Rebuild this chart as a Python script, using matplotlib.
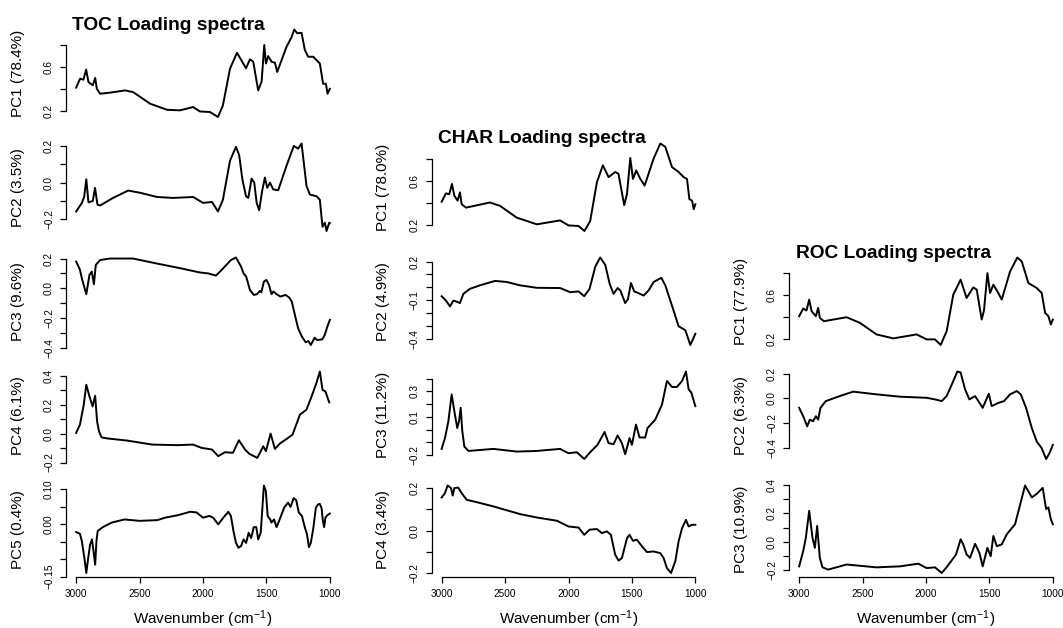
import matplotlib
matplotlib.use('Agg')
import matplotlib.pyplot as plt

plt.rcParams['font.family'] = ['Liberation Sans', 'DejaVu Sans']
plt.rcParams['mathtext.fontset'] = 'custom'
plt.rcParams['mathtext.rm'] = 'Liberation Sans'
plt.rcParams['mathtext.it'] = 'Liberation Sans:italic'
plt.rcParams['mathtext.bf'] = 'Liberation Sans:bold'

M = '\u2212'

# ---- TOC loadings ----
toc_pc1_wn = [3000, 2969, 2943, 2921, 2903, 2869, 2850, 2837, 2811, 2732, 2614, 2551, 2417, 2283, 2181,
              2079, 2024, 1945, 1882, 1843, 1787, 1732, 1661, 1630, 1604, 1565, 1538, 1517, 1504, 1486,
              1459, 1433, 1415, 1341, 1302, 1281, 1257, 1223, 1197, 1171, 1131, 1105, 1079, 1053, 1031,
              1018, 1000]
toc_pc1 = [0.415, 0.496, 0.487, 0.578, 0.466, 0.436, 0.503, 0.405, 0.36, 0.37, 0.39, 0.375, 0.27, 0.215, 0.21,
           0.24, 0.2, 0.195, 0.15, 0.255, 0.587, 0.73, 0.59, 0.67, 0.65, 0.39, 0.47, 0.8, 0.633, 0.70,
           0.648, 0.64, 0.557, 0.785, 0.87, 0.94, 0.906, 0.91, 0.755, 0.694, 0.694, 0.663, 0.633, 0.45, 0.45,
           0.36, 0.405]

toc_pc2_wn = [3000, 2955, 2937, 2920, 2903, 2869, 2851, 2832, 2811, 2709, 2590, 2496, 2362, 2236, 2077,
              2000, 1929, 1882, 1843, 1787, 1740, 1715, 1690, 1661, 1643, 1617, 1596, 1577, 1557, 1535,
              1512, 1494, 1472, 1446, 1407, 1341, 1284, 1250, 1223, 1184, 1157, 1105, 1079, 1058, 1039,
              1026, 1005, 1000]
toc_pc2 = [-0.157, -0.11, -0.078, 0.018, -0.107, -0.10, -0.028, -0.12, -0.124, -0.083, -0.043, -0.055, -0.078, -0.083, -0.078,
           -0.11, -0.105, -0.157, -0.093, 0.12, 0.195, 0.15, 0.02, -0.074, -0.083, 0.022, 0.0, -0.11, -0.15, -0.05,
           0.028, -0.028, 0.0, -0.037, -0.041, 0.093, 0.2, 0.185, 0.213, -0.018, -0.065, -0.074, -0.093, -0.24, -0.218,
           -0.263, -0.218, -0.22]

toc_pc3_wn = [3000, 2970, 2955, 2920, 2895, 2877, 2860, 2845, 2811, 2732, 2551, 2350, 2180, 2024, 1960,
              1898, 1860, 1780, 1740, 1700, 1680, 1660, 1630, 1600, 1575, 1550, 1540, 1520, 1500, 1480,
              1460, 1445, 1420, 1390, 1350, 1320, 1300, 1270, 1250, 1220, 1190, 1170, 1150, 1120, 1100,
              1060, 1040, 1020, 1000]
toc_pc3 = [0.18, 0.124, 0.067, -0.04, 0.09, 0.112, 0.027, 0.157, 0.19, 0.2, 0.2, 0.164, 0.135, 0.106, 0.1,
           0.085, 0.117, 0.19, 0.207, 0.146, 0.1, 0.079, -0.011, -0.045, -0.04, -0.018, -0.027, 0.045, 0.056, 0.023,
           -0.04, -0.022, -0.04, -0.056, -0.045, -0.063, -0.09, -0.2, -0.27, -0.326, -0.364, -0.355, -0.382, -0.333, -0.349,
           -0.344, -0.314, -0.259, -0.213]

toc_pc4_wn = [3000, 2970, 2940, 2920, 2895, 2870, 2850, 2835, 2820, 2800, 2750, 2600, 2400, 2200, 2079,
              2010, 1930, 1880, 1827, 1764, 1717, 1669, 1635, 1572, 1525, 1504, 1467, 1433, 1394, 1341,
              1294, 1236, 1184, 1144, 1106, 1079, 1058, 1035, 1005]
toc_pc4 = [0.005, 0.062, 0.2, 0.338, 0.257, 0.188, 0.262, 0.085, 0.016, -0.026, -0.034, -0.048, -0.076, -0.08, -0.076,
           -0.099, -0.11, -0.156, -0.129, -0.133, -0.046, -0.11, -0.14, -0.168, -0.088, -0.122, 0.0, -0.106, -0.069, -0.037,
           -0.007, 0.131, 0.166, 0.257, 0.35, 0.43, 0.303, 0.292, 0.216]

toc_pc5_wn = [3000, 2970, 2955, 2935, 2920, 2905, 2890, 2875, 2860, 2850, 2840, 2830, 2790, 2720, 2620,
              2500, 2360, 2300, 2200, 2100, 2050, 2000, 1950, 1920, 1880, 1840, 1800, 1780, 1760, 1740,
              1720, 1700, 1680, 1660, 1640, 1620, 1600, 1580, 1565, 1545, 1520, 1505, 1490, 1470, 1460,
              1440, 1420, 1400, 1360, 1330, 1310, 1285, 1265, 1245, 1220, 1200, 1180, 1165, 1150, 1130,
              1110, 1095, 1080, 1065, 1055, 1045, 1035, 1020, 1000]
toc_pc5 = [-0.023, -0.028, -0.049, -0.097, -0.14, -0.097, -0.059, -0.044, -0.087, -0.116, -0.049, -0.02, -0.009, 0.004, 0.013,
           0.009, 0.011, 0.018, 0.025, 0.035, 0.033, 0.018, 0.023, 0.018, -0.001, 0.018, 0.035, 0.023, -0.02, -0.054,
           -0.068, -0.063, -0.044, -0.054, -0.025, -0.04, -0.009, -0.009, -0.044, -0.025, 0.11, 0.095, 0.023, 0.013, 0.004,
           0.013, -0.009, 0.009, 0.047, 0.061, 0.049, 0.074, 0.068, 0.033, 0.023, -0.006, -0.03, -0.066, -0.054, -0.011,
           0.047, 0.055, 0.058, 0.045, 0.009, -0.009, 0.018, 0.025, 0.03]

# ---- CHAR loadings ----
char_pc1_wn = [3000, 2966, 2940, 2919, 2900, 2874, 2856, 2842, 2808, 2619, 2540, 2408, 2250, 2066, 2000,
               1921, 1874, 1829, 1776, 1729, 1684, 1632, 1606, 1561, 1539, 1513, 1492, 1466, 1434, 1400,
               1329, 1276, 1237, 1184, 1132, 1092, 1066, 1047, 1026, 1013, 1000]
char_pc1 = [0.413, 0.488, 0.48, 0.573, 0.467, 0.422, 0.497, 0.39, 0.36, 0.406, 0.376, 0.27, 0.21, 0.245, 0.2,
            0.195, 0.15, 0.24, 0.588, 0.74, 0.634, 0.68, 0.664, 0.382, 0.482, 0.806, 0.618, 0.694, 0.618, 0.558,
            0.8, 0.936, 0.906, 0.724, 0.68, 0.634, 0.618, 0.436, 0.422, 0.345, 0.39]

char_pc2_wn = [3000, 2966, 2934, 2908, 2882, 2856, 2829, 2777, 2698, 2579, 2487, 2382, 2250, 2066, 1987,
               1921, 1876, 1834, 1789, 1750, 1710, 1676, 1645, 1613, 1592, 1553, 1531, 1508, 1482, 1447,
               1408, 1368, 1329, 1268, 1237, 1184, 1132, 1079, 1053, 1040, 1021, 1000]
char_pc2 = [-0.068, -0.102, -0.147, -0.102, -0.11, -0.121, -0.05, -0.011, 0.016, 0.05, 0.042, 0.016, -0.003, -0.005, -0.037,
            -0.031, -0.068, -0.011, 0.16, 0.231, 0.174, 0.029, -0.05, -0.005, -0.023, -0.121, -0.09, 0.034, -0.031, -0.045,
            -0.063, -0.023, 0.042, 0.074, 0.016, -0.142, -0.3, -0.331, -0.405, -0.445, -0.405, -0.358]

char_pc3_wn = [3000, 2974, 2947, 2921, 2900, 2877, 2863, 2850, 2837, 2821, 2789, 2592, 2408, 2250, 2066,
               2000, 1934, 1876, 1829, 1771, 1716, 1684, 1645, 1613, 1579, 1553, 1519, 1500, 1468, 1440,
               1395, 1377, 1316, 1263, 1224, 1184, 1145, 1105, 1074, 1053, 1032, 1000]
char_pc3 = [-0.15, -0.066, 0.066, 0.276, 0.145, 0.013, 0.066, 0.171, -0.013, -0.132, -0.166, -0.15, -0.171, -0.166, -0.15,
            -0.184, -0.176, -0.229, -0.176, -0.118, -0.018, -0.105, -0.113, -0.045, -0.105, -0.192, -0.066, -0.118, 0.04, -0.061,
            -0.061, 0.013, 0.079, 0.197, 0.381, 0.334, 0.334, 0.381, 0.455, 0.316, 0.29, 0.184]

char_pc4_wn = [3000, 2974, 2953, 2926, 2913, 2900, 2869, 2842, 2803, 2724, 2592, 2382, 2250, 2092, 2000,
               1921, 1876, 1834, 1776, 1737, 1697, 1666, 1632, 1605, 1579, 1539, 1519, 1492, 1461, 1421,
               1382, 1329, 1276, 1250, 1224, 1192, 1158, 1132, 1105, 1074, 1053, 1026, 1000]
char_pc4 = [0.156, 0.176, 0.212, 0.2, 0.165, 0.2, 0.202, 0.176, 0.145, 0.134, 0.114, 0.078, 0.062, 0.047, 0.02,
            0.015, -0.019, 0.005, 0.008, -0.011, -0.003, -0.019, -0.112, -0.14, -0.128, -0.035, -0.019, -0.047, -0.042, -0.073,
            -0.1, -0.097, -0.105, -0.128, -0.175, -0.198, -0.143, -0.05, 0.012, 0.051, 0.02, 0.028, 0.028]

# ---- ROC loadings ----
roc_pc1_wn = [3000, 2968, 2942, 2921, 2902, 2868, 2850, 2837, 2805, 2626, 2521, 2390, 2258, 2074, 1995,
              1929, 1884, 1837, 1785, 1727, 1680, 1627, 1600, 1561, 1543, 1516, 1495, 1469, 1430, 1403,
              1337, 1280, 1245, 1193, 1127, 1088, 1061, 1035, 1016, 1000]
roc_pc1 = [0.41, 0.48, 0.462, 0.561, 0.456, 0.41, 0.486, 0.395, 0.365, 0.401, 0.35, 0.245, 0.209, 0.245, 0.2,
           0.2, 0.149, 0.275, 0.606, 0.742, 0.576, 0.672, 0.651, 0.38, 0.462, 0.801, 0.621, 0.697, 0.621, 0.561,
           0.817, 0.943, 0.907, 0.711, 0.666, 0.621, 0.44, 0.41, 0.335, 0.38]

roc_pc2_wn = [3000, 2968, 2937, 2916, 2890, 2868, 2850, 2832, 2790, 2680, 2574, 2390, 2205, 1995, 1929,
              1876, 1837, 1790, 1753, 1727, 1692, 1658, 1613, 1587, 1553, 1505, 1482, 1429, 1385, 1337,
              1285, 1253, 1211, 1166, 1127, 1088, 1053, 1027, 1000]
roc_pc2 = [-0.077, -0.145, -0.227, -0.173, -0.186, -0.145, -0.173, -0.077, -0.022, 0.019, 0.055, 0.033, 0.014, 0.005, -0.008,
           -0.022, 0.019, 0.129, 0.219, 0.211, 0.074, -0.008, 0.019, -0.022, -0.077, 0.038, -0.063, -0.036, -0.022, 0.033,
           0.06, 0.033, -0.077, -0.241, -0.351, -0.405, -0.493, -0.446, -0.378]

roc_pc3_wn = [3000, 2968, 2947, 2921, 2895, 2876, 2858, 2837, 2816, 2771, 2626, 2390, 2205, 2061, 1995,
              1929, 1876, 1832, 1763, 1727, 1706, 1680, 1653, 1613, 1579, 1553, 1516, 1490, 1469, 1442,
              1403, 1363, 1298, 1219, 1166, 1127, 1080, 1053, 1035, 1016, 1000]
roc_pc3 = [-0.174, -0.066, 0.029, 0.219, 0.029, -0.043, 0.112, -0.114, -0.181, -0.197, -0.161, -0.181, -0.174, -0.155, -0.186,
           -0.181, -0.221, -0.174, -0.09, 0.017, -0.019, -0.09, -0.114, -0.014, -0.079, -0.174, -0.043, -0.102, 0.041, -0.031,
           -0.019, 0.053, 0.124, 0.398, 0.314, 0.339, 0.381, 0.231, 0.243, 0.16, 0.124]

# panel labels, y ticks and tick labels
toc_labels = ['PC1 (78.4%)', 'PC2 (3.5%)', 'PC3 (9.6%)', 'PC4 (6.1%)', 'PC5 (0.4%)']
char_labels = ['PC1 (78.0%)', 'PC2 (4.9%)', 'PC3 (11.2%)', 'PC4 (3.4%)']
roc_labels = ['PC1 (77.9%)', 'PC2 (6.3%)', 'PC3 (10.9%)']

pc1_ticks = ([0.2, 0.4, 0.6, 0.8], ['0.2', '', '0.6', ''])
toc_pc2_ticks = ([-0.2, -0.1, 0.0, 0.1, 0.2], [M + '0.2', '', '0.0', '', '0.2'])
toc_pc3_ticks = ([-0.4, -0.3, -0.2, -0.1, 0.0, 0.1, 0.2], [M + '0.4', '', M + '0.2', '', '0.0', '', '0.2'])
toc_pc4_ticks = ([-0.2, -0.1, 0.0, 0.1, 0.2, 0.3, 0.4], [M + '0.2', '', '0.0', '', '0.2', '', '0.4'])
toc_pc5_ticks = ([-0.15, -0.10, -0.05, 0.0, 0.05, 0.10], [M + '0.15', '', '', '0.00', '', '0.10'])
char_pc2_ticks = ([-0.4, -0.3, -0.2, -0.1, 0.0, 0.1, 0.2], [M + '0.4', '', '', M + '0.1', '', '', '0.2'])
char_pc3_ticks = ([-0.2, -0.1, 0.0, 0.1, 0.2, 0.3, 0.4], [M + '0.2', '', '', '0.1', '', '0.3', ''])
char_pc4_ticks = ([-0.2, -0.1, 0.0, 0.1, 0.2], [M + '0.2', '', '0.0', '', '0.2'])
roc_pc2_ticks = ([-0.4, -0.2, 0.0, 0.2], [M + '0.4', M + '0.2', '0.0', '0.2'])
roc_pc3_ticks = ([-0.2, -0.1, 0.0, 0.1, 0.2, 0.3, 0.4], [M + '0.2', '', '0.0', '', '0.2', '', '0.4'])

x_ticks = [3000, 2500, 2000, 1500, 1000]

columns = [
    ('TOC Loading spectra', 66,
     [(toc_labels[0], toc_pc1_wn, toc_pc1, pc1_ticks),
      (toc_labels[1], toc_pc2_wn, toc_pc2, toc_pc2_ticks),
      (toc_labels[2], toc_pc3_wn, toc_pc3, toc_pc3_ticks),
      (toc_labels[3], toc_pc4_wn, toc_pc4, toc_pc4_ticks),
      (toc_labels[4], toc_pc5_wn, toc_pc5, toc_pc5_ticks)]),
    ('CHAR Loading spectra', 431.5,
     [(char_labels[0], char_pc1_wn, char_pc1, pc1_ticks),
      (char_labels[1], char_pc2_wn, char_pc2, char_pc2_ticks),
      (char_labels[2], char_pc3_wn, char_pc3, char_pc3_ticks),
      (char_labels[3], char_pc4_wn, char_pc4, char_pc4_ticks)]),
    ('ROC Loading spectra', 789,
     [(roc_labels[0], roc_pc1_wn, roc_pc1, pc1_ticks),
      (roc_labels[1], roc_pc2_wn, roc_pc2, roc_pc2_ticks),
      (roc_labels[2], roc_pc3_wn, roc_pc3, roc_pc3_ticks)]),
]

W, H = 1063, 628
fig = plt.figure(figsize=(W / 100, H / 100), dpi=100)

ax_w, ax_h = 274, 94.5
last_bottom, pitch = 576.5, 114

for title, left, panels in columns:
    n = len(panels)
    for i, (label, wn, vals, (ticks, tlabels)) in enumerate(panels):
        bottom = last_bottom - (n - 1 - i) * pitch
        ax = fig.add_axes([left / W, (H - bottom) / H, ax_w / W, ax_h / H])
        ax.plot(wn, vals, color='black', lw=1.4)
        ax.set_xlim(3080, 920)
        ax.margins(y=0.04)
        ax.set_yticks(ticks, tlabels)
        ax.spines['left'].set_bounds(ticks[0], ticks[-1])
        for s in ['top', 'right']:
            ax.spines[s].set_visible(False)
        ax.spines['left'].set_linewidth(0.9)
        ax.tick_params(axis='y', length=4.3, width=0.9, labelsize=7.2, pad=4.3)
        plt.setp(ax.get_yticklabels(), rotation=90, va='center')
        ax.set_ylabel(label, fontsize=11)
        ax.yaxis.set_label_coords(-41 / ax_w, 0.5)
        if i == n - 1:
            ax.set_xticks(x_ticks, [str(t) for t in x_ticks])
            ax.spines['bottom'].set_bounds(1000, 3000)
            ax.spines['bottom'].set_linewidth(0.9)
            ax.tick_params(axis='x', length=4.3, width=0.9, labelsize=7.2, pad=5)
            ax.set_xlabel('Wavenumber (cm$^{-1}$)', fontsize=11)
            ax.xaxis.set_label_coords(0.5, -31.5 / ax_h)
        else:
            ax.spines['bottom'].set_visible(False)
            ax.set_xticks([])
        if i == 0:
            ax.text(6.5 / ax_w, 1 - 3.5 / ax_h, title, transform=ax.transAxes,
                    fontsize=13.8, fontweight='bold', ha='left', va='baseline')

fig.savefig('out.png', dpi=100)
